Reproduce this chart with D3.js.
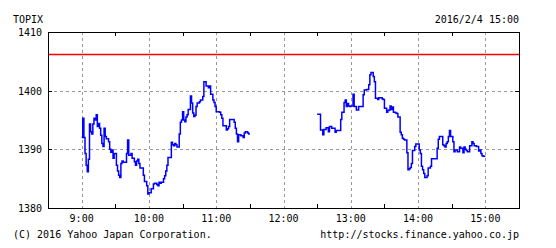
<!DOCTYPE html>
<html>
<head>
<meta charset="utf-8">
<style>
  body { margin: 0; background: #fff; }
  text { font-family: "DejaVu Sans Mono", monospace; font-size: 10px; fill: #000; }
</style>
</head>
<body>
<svg id="chart" width="556" height="248"></svg>
<script src="https://cdn.jsdelivr.net/npm/d3@7"></script>
<script>
// TOPIX 2016/2/4, one value per minute
const morningStart = "09:00";
const morning = [
  1392.0, 1395.3, 1392.0, 1389.3, 1387.3, 1386.2, 1388.3, 1394.3, 1393.0, 1392.6,
  1394.3, 1395.3, 1395.0, 1395.9, 1393.9, 1394.4, 1393.6, 1392.4, 1391.0, 1390.5,
  1393.6, 1392.2, 1391.8, 1391.8, 1391.3, 1390.0, 1389.5, 1389.9, 1388.5, 1389.3,
  1389.3, 1387.3, 1386.3, 1385.6, 1385.2, 1387.6, 1388.0, 1387.8, 1387.8, 1387.8,
  1389.3, 1391.6, 1389.0, 1389.0, 1389.3, 1388.5, 1388.5, 1387.9, 1387.3, 1388.0,
  1388.3, 1387.6, 1386.8, 1386.8, 1386.8, 1385.6, 1384.5, 1384.5, 1383.8, 1382.4,
  1382.6, 1382.6, 1383.3, 1383.3, 1384.1, 1384.2, 1384.2, 1384.0, 1383.8, 1384.4,
  1384.2, 1384.4, 1384.4, 1385.0, 1385.5, 1386.3, 1387.3, 1388.6, 1388.6, 1388.6,
  1391.2, 1390.8, 1390.6, 1391.0, 1390.8, 1390.4, 1390.4, 1392.6, 1394.6, 1395.0,
  1396.4, 1395.0, 1394.7, 1395.5, 1395.9, 1396.8, 1396.8, 1399.1, 1397.9, 1396.2,
  1395.6, 1395.8, 1397.3, 1397.9, 1397.9, 1398.1, 1398.4, 1398.4, 1399.0, 1401.5,
  1401.5, 1400.8, 1400.8, 1400.5, 1400.8, 1399.4, 1399.4, 1398.4, 1398.0, 1397.3,
  1396.4, 1396.4, 1396.4, 1396.3, 1395.9, 1395.3, 1394.0, 1394.0, 1394.0, 1393.3,
  1393.5, 1393.9, 1395.1, 1395.1, 1395.1, 1395.1, 1394.6, 1393.6, 1392.6, 1391.3,
  1392.5, 1392.5, 1392.3, 1392.3, 1392.0, 1392.8, 1393.0, 1393.0, 1392.8, 1392.6,
  1392.6
];
const afternoonStart = "12:30";
const afternoon = [
  1396.0, 1396.0, 1396.0, 1393.3, 1393.3, 1392.5, 1393.4, 1393.4, 1393.7, 1393.7,
  1393.0, 1393.9, 1393.9, 1393.6, 1393.6, 1393.6, 1392.9, 1393.2, 1393.2, 1393.2,
  1393.2, 1395.1, 1396.3, 1396.3, 1398.0, 1398.4, 1397.3, 1397.8, 1397.4, 1397.3,
  1397.4, 1397.4, 1399.4, 1397.3, 1397.3, 1396.7, 1396.7, 1397.3, 1397.3, 1397.3,
  1397.3, 1399.3, 1400.1, 1400.1, 1400.2, 1400.2, 1401.0, 1402.7, 1403.1, 1403.1,
  1402.4, 1401.5, 1398.7, 1398.7, 1398.5, 1398.8, 1398.8, 1398.8, 1398.6, 1398.5,
  1397.0, 1397.0, 1396.3, 1396.6, 1396.7, 1397.4, 1396.8, 1397.2, 1396.3, 1396.3,
  1396.2, 1396.1, 1395.5, 1395.5, 1392.9, 1392.5, 1391.9, 1391.7, 1391.6, 1391.6,
  1389.4, 1386.5, 1386.7, 1386.9, 1387.6, 1389.8, 1389.8, 1390.5, 1390.9, 1390.9,
  1390.9, 1389.9, 1389.3, 1387.1, 1386.5, 1385.9, 1385.2, 1385.2, 1385.5, 1386.8,
  1386.8, 1387.1, 1388.4, 1388.4, 1388.4, 1388.4, 1388.4, 1390.2, 1391.7, 1392.2,
  1392.2, 1392.2, 1390.8, 1390.6, 1390.4, 1391.0, 1391.3, 1392.2, 1393.2, 1392.2,
  1392.2, 1391.3, 1389.6, 1389.9, 1389.9, 1389.6, 1389.6, 1390.4, 1390.2, 1390.2,
  1389.4, 1390.4, 1390.0, 1389.8, 1389.6, 1389.6, 1390.6, 1390.6, 1391.3, 1391.0,
  1390.6, 1390.6, 1390.5, 1390.5, 1389.7, 1389.9, 1389.3, 1388.9, 1388.8, 1388.8,
  1388.8
];
const prevClose = 1406.3;
const yTicks = [1380, 1390, 1400, 1410];
const xTickLabels = ["9:00", "10:00", "11:00", "12:00", "13:00", "14:00", "15:00"];
const halfHours = ["08:30", "09:30", "10:30", "11:30", "12:30", "13:30", "14:30", "15:30"];
const title = "TOPIX";
const stamp = "2016/2/4 15:00";
const credit = "(C) 2016 Yahoo Japan Corporation.";
const site = "http://stocks.finance.yahoo.co.jp";

const parse = d3.timeParse("%Y-%m-%d %H:%M");
const t = s => parse("2016-02-04 " + s);

const pLeft = 48, pRight = 519, pTop = 32, pBottom = 208;
const svg = d3.select("#chart");

const x = d3.scaleTime().domain([t("08:30"), t("15:30")]).range([pLeft, pRight]);
const y = d3.scaleLinear().domain([1380, 1410]).range([pBottom, pTop]);

function series(start, vals) {
  const t0 = t(start);
  return vals.map((v, i) => ({ time: d3.timeMinute.offset(t0, i), value: v }));
}

// grid
const hours = xTickLabels.map(s => t(s.padStart(5, "0")));
svg.append("g").selectAll("line").data(hours).join("line")
  .attr("x1", d => Math.round(x(d)) + 0.5).attr("x2", d => Math.round(x(d)) + 0.5)
  .attr("y1", pTop).attr("y2", pBottom)
  .attr("stroke", "#999").attr("stroke-dasharray", "3,3");
svg.append("g").selectAll("line").data([1390, 1400]).join("line")
  .attr("x1", pLeft).attr("x2", pRight)
  .attr("y1", d => Math.round(y(d)) + 0.5).attr("y2", d => Math.round(y(d)) + 0.5)
  .attr("stroke", "#999").attr("stroke-dasharray", "3,3");

// half hour ticks top and bottom
const ticks = svg.append("g").attr("stroke", "#000");
halfHours.map(t).forEach(d => {
  const xx = Math.round(x(d)) + 0.5;
  ticks.append("line").attr("x1", xx).attr("x2", xx).attr("y1", pTop).attr("y2", pTop + 4);
  ticks.append("line").attr("x1", xx).attr("x2", xx).attr("y1", pBottom).attr("y2", pBottom - 4);
});
[1390, 1400].forEach(v => {
  const yy = Math.round(y(v)) + 0.5;
  ticks.append("line").attr("x1", pLeft).attr("x2", pLeft + 4).attr("y1", yy).attr("y2", yy);
  ticks.append("line").attr("x1", pRight - 4).attr("x2", pRight).attr("y1", yy).attr("y2", yy);
});

// previous close
svg.append("line")
  .attr("x1", pLeft).attr("x2", pRight)
  .attr("y1", Math.round(y(prevClose)) + 0.5).attr("y2", Math.round(y(prevClose)) + 0.5)
  .attr("stroke", "#ff0000").attr("stroke-width", 1.5);

// price line
const line = d3.line()
  .x(d => x(d.time)).y(d => y(d.value))
  .curve(d3.curveStepAfter);
[series(morningStart, morning), series(afternoonStart, afternoon)].forEach(s => {
  svg.append("path").datum(s)
    .attr("fill", "none").attr("stroke", "#0000ff").attr("stroke-width", 1.5)
    .attr("d", line);
});

// frame
svg.append("rect")
  .attr("x", pLeft + 0.5).attr("y", pTop + 0.5)
  .attr("width", pRight - pLeft).attr("height", pBottom - pTop)
  .attr("fill", "none").attr("stroke", "#000");

// labels
svg.append("g").selectAll("text").data(yTicks).join("text")
  .attr("x", 42).attr("y", d => y(d) + 4)
  .attr("text-anchor", "end").text(d => d);
svg.append("g").selectAll("text").data(xTickLabels).join("text")
  .attr("x", (d, i) => x(hours[i])).attr("y", 222)
  .attr("text-anchor", "middle").text(d => d);

svg.append("text").attr("x", 13).attr("y", 23).text(title);
svg.append("text").attr("x", 519).attr("y", 23).attr("text-anchor", "end").text(stamp);
svg.append("text").attr("x", 13).attr("y", 238).text(credit);
svg.append("text").attr("x", 519).attr("y", 238).attr("text-anchor", "end").text(site);
</script>
</body>
</html>
